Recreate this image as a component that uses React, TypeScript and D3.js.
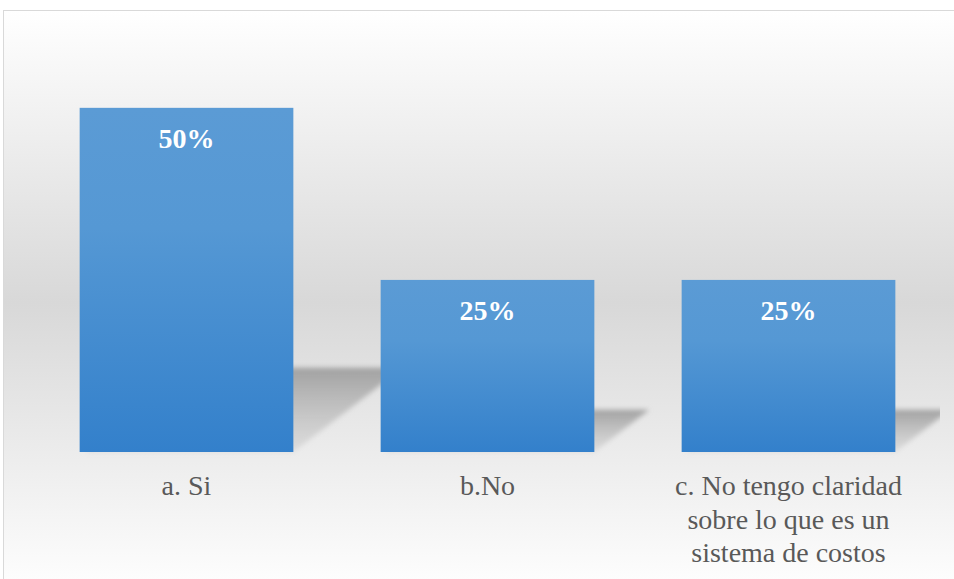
import React, { useRef, useEffect } from 'react';
import * as d3 from 'd3';

const categories = ['a. Si', 'b.No', 'c. No tengo claridad sobre lo que es un sistema de costos'];
const values = [0.5, 0.25, 0.25];
const valueLabels = ['50%', '25%', '25%'];

const W = 954;
const H = 579;
const FONT = "'Liberation Serif', 'Times New Roman', 'DejaVu Serif', serif";

export default function App() {
  const svgRef = useRef<SVGSVGElement>(null);

  useEffect(() => {
    if (!svgRef.current) return;
    const svg = d3.select(svgRef.current);
    svg.selectAll('*').remove();

    const defs = svg.append('defs');

    // chart background: white -> gray -> white
    const bg = defs.append('linearGradient').attr('id', 'bg').attr('x1', 0).attr('y1', 0).attr('x2', 0).attr('y2', 1);
    bg.append('stop').attr('offset', '0%').attr('stop-color', '#ffffff');
    bg.append('stop').attr('offset', '50%').attr('stop-color', '#d8d8d8');
    bg.append('stop').attr('offset', '100%').attr('stop-color', '#ffffff');

    const barGrad = defs.append('linearGradient').attr('id', 'barGrad').attr('x1', 0).attr('y1', 0).attr('x2', 0).attr('y2', 1);
    barGrad.append('stop').attr('offset', '0%').attr('stop-color', '#5b9bd5');
    barGrad.append('stop').attr('offset', '35%').attr('stop-color', '#5598d4');
    barGrad.append('stop').attr('offset', '100%').attr('stop-color', '#3380cb');

    const shGrad = defs.append('linearGradient').attr('id', 'shGrad').attr('x1', 0).attr('y1', 0).attr('x2', 0).attr('y2', 1);
    shGrad.append('stop').attr('offset', '0%').attr('stop-color', '#9a9a9a').attr('stop-opacity', 0.9);
    shGrad.append('stop').attr('offset', '100%').attr('stop-color', '#c0c0c0').attr('stop-opacity', 0.35);

    defs.append('filter').attr('id', 'blur').attr('x', '-20%').attr('y', '-20%').attr('width', '140%').attr('height', '140%')
      .append('feGaussianBlur').attr('stdDeviation', 2.5);

    defs.append('clipPath').attr('id', 'plotClip')
      .append('rect').attr('x', 4).attr('y', 11).attr('width', 936).attr('height', 560);

    // chart area
    svg.append('rect')
      .attr('x', 3.5).attr('y', 10.5).attr('width', 970).attr('height', 585)
      .attr('fill', 'url(#bg)')
      .attr('stroke', '#d9d9d9').attr('stroke-width', 1);

    const x = d3.scaleBand<string>()
      .domain(categories)
      .range([36, 939])
      .paddingInner(0.29)
      .paddingOuter(0.145);

    const y = d3.scaleLinear().domain([0, 0.6]).range([452, 39]);

    const data = categories.map((c, i) => ({ c, v: values[i], label: valueLabels[i] }));

    // perspective shadows
    svg.append('g').attr('clip-path', 'url(#plotClip)')
      .selectAll('polygon')
      .data(data)
      .join('polygon')
      .attr('points', d => {
        const x0 = x(d.c)!;
        const x1 = x0 + x.bandwidth();
        const b = y(0);
        const h = b - y(d.v);
        const sh = h * 0.245;
        const dx = sh * 1.3;
        return [[x0 + 4, b], [x1, b], [x1 + dx, b - sh], [x0 + dx, b - sh]].map(p => p.join(',')).join(' ');
      })
      .attr('fill', 'url(#shGrad)')
      .attr('filter', 'url(#blur)');

    // bars
    svg.append('g')
      .selectAll('rect')
      .data(data)
      .join('rect')
      .attr('x', d => x(d.c)!)
      .attr('y', d => y(d.v))
      .attr('width', x.bandwidth())
      .attr('height', d => y(0) - y(d.v))
      .attr('fill', 'url(#barGrad)');

    // value labels
    svg.append('g')
      .selectAll('text')
      .data(data)
      .join('text')
      .attr('x', d => x(d.c)! + x.bandwidth() / 2)
      .attr('y', d => y(d.v) + 40)
      .attr('text-anchor', 'middle')
      .style('font-family', FONT, 'important')
      .style('font-size', '28px')
      .style('font-weight', 'bold')
      .attr('fill', '#ffffff')
      .text(d => d.label);

    // category labels with wrapping
    const cats = svg.append('g')
      .selectAll('text')
      .data(data)
      .join('text')
      .attr('x', d => x(d.c)! + x.bandwidth() / 2)
      .attr('y', 495)
      .attr('text-anchor', 'middle')
      .style('font-family', FONT, 'important')
      .style('font-size', '28px')
      .attr('fill', '#595959');

    cats.each(function (d) {
      const text = d3.select(this);
      const cx = x(d.c)! + x.bandwidth() / 2;
      const words = d.c.split(' ');
      let line: string[] = [];
      let tspan = text.append('tspan').attr('x', cx).attr('dy', 0);
      words.forEach(w => {
        line.push(w);
        tspan.text(line.join(' '));
        if ((tspan.node() as SVGTSpanElement).getComputedTextLength() > 255 && line.length > 1) {
          line.pop();
          tspan.text(line.join(' '));
          line = [w];
          tspan = text.append('tspan').attr('x', cx).attr('dy', 33.5).text(w);
        }
      });
    });
  }, []);

  return (
    <div style={{ position: 'fixed', left: 0, top: 0, width: W, height: H, background: '#ffffff' }}>
      <svg ref={svgRef} width={W} height={H} style={{ display: 'block' }} />
    </div>
  );
}
